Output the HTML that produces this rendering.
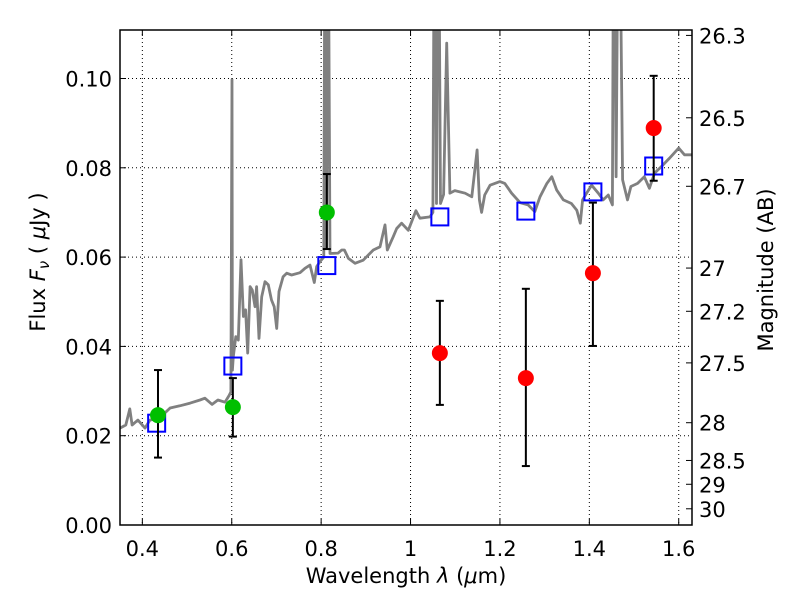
<!DOCTYPE html>
<html><head><meta charset="utf-8"><style>
html,body{margin:0;padding:0;background:#fff;}
svg text{font-family:"DejaVu Sans","Liberation Sans",sans-serif;fill:#000;}
</style></head><body>
<div style="position:relative;width:800px;height:600px;">
<svg id="chart" width="800" height="600" viewBox="0 0 800 600" xmlns="http://www.w3.org/2000/svg" style="position:absolute;left:0;top:0;">
<defs><clipPath id="clip"><rect x="120" y="30" width="572" height="495"/></clipPath></defs>
<rect width="800" height="600" fill="#fff"/>
<g id="grid"></g>
<g id="plot" clip-path="url(#clip)"></g>
<g id="axes"></g>
<text x="406" y="583" text-anchor="middle" font-size="21">Wavelength  <tspan font-style="italic">λ</tspan> (<tspan font-style="italic">μ</tspan>m)</text>
<text transform="translate(45,262) rotate(-90)" text-anchor="middle" font-size="21">Flux  <tspan font-style="italic">F</tspan><tspan font-style="italic" font-size="15" dy="4">ν</tspan><tspan dy="-4">  (  </tspan><tspan font-style="italic">μ</tspan>Jy )</text>
<text transform="translate(773,270) rotate(-90)" text-anchor="middle" font-size="21">Magnitude (AB)</text>
</svg>
</div>
<script>
const specLam=[0.35,0.363,0.372,0.377,0.39,0.406,0.417,0.439,0.462,0.484,0.507,0.529,0.54,0.556,0.569,0.585,0.594,0.598,0.6005,0.6015,0.6035,0.609,0.6147,0.6207,0.626,0.631,0.6357,0.641,0.646,0.652,0.6557,0.661,0.667,0.6744,0.6818,0.689,0.695,0.7005,0.7057,0.715,0.723,0.734,0.7527,0.7639,0.775,0.7847,0.79,0.7975,0.806,0.809,0.812,0.815,0.8198,0.838,0.846,0.852,0.861,0.8757,0.894,0.9167,0.9317,0.9429,0.948,0.9615,0.969,0.98,0.995,1.012,1.021,1.0435,1.05,1.054,1.058,1.062,1.067,1.074,1.081,1.088,1.099,1.122,1.137,1.149,1.154,1.159,1.166,1.178,1.2,1.211,1.226,1.245,1.263,1.278,1.2897,1.305,1.316,1.327,1.342,1.36,1.372,1.3797,1.385,1.394,1.405,1.42,1.431,1.4425,1.4517,1.455,1.46,1.466,1.4745,1.4855,1.493,1.508,1.523,1.5345,1.5457,1.5606,1.579,1.6,1.613,1.63];
const specFlux=[0.0217,0.0224,0.026,0.0224,0.0235,0.0217,0.0235,0.024,0.0262,0.0267,0.0273,0.028,0.0284,0.027,0.028,0.0275,0.029,0.0298,0.0997,0.0347,0.0377,0.0422,0.0414,0.0594,0.0467,0.0482,0.0385,0.0534,0.0526,0.0489,0.0534,0.0418,0.0511,0.0545,0.0538,0.0504,0.0489,0.044,0.0523,0.0556,0.0564,0.056,0.0565,0.0575,0.0582,0.0543,0.0579,0.059,0.06,0.16,0.062,0.16,0.0608,0.0609,0.0616,0.0616,0.0597,0.0586,0.0593,0.0616,0.0623,0.0672,0.0616,0.0646,0.0664,0.0676,0.066,0.0704,0.0687,0.069,0.07,0.16,0.072,0.16,0.072,0.074,0.1079,0.0743,0.0749,0.0743,0.0735,0.084,0.0728,0.07,0.0739,0.0761,0.0769,0.0765,0.0743,0.0722,0.0717,0.0702,0.0735,0.0765,0.078,0.075,0.0728,0.072,0.0705,0.0676,0.0728,0.0743,0.0761,0.0743,0.0728,0.0739,0.0717,0.16,0.078,0.16,0.0773,0.0728,0.0758,0.0765,0.078,0.0754,0.0788,0.0802,0.0821,0.0844,0.0829,0.0829];
const modelLam=[0.432,0.6025,0.8127,1.0656,1.258,1.408,1.544];
const modelFlux=[0.0228,0.0356,0.0581,0.069,0.0703,0.0746,0.0804];
const greenLam=[0.435,0.6025,0.8127];
const greenFlux=[0.0246,0.0264,0.070];
const greenLo=[0.0151,0.0198,0.0618];
const greenHi=[0.0347,0.0329,0.0786];
const redLam=[1.0656,1.258,1.408,1.544];
const redFlux=[0.0385,0.0329,0.0564,0.0889];
const redLo=[0.0269,0.0132,0.0401,0.0771];
const redHi=[0.0502,0.0529,0.0722,0.1006];
const xTicks=[0.4,0.6,0.8,1.0,1.2,1.4,1.6];
const xTickLabels=["0.4","0.6","0.8","1","1.2","1.4","1.6"];
const yTicks=[0,0.02,0.04,0.06,0.08,0.10];
const yTickLabels=["0.00","0.02","0.04","0.06","0.08","0.10"];
const magTicks=[26.3,26.5,26.7,27,27.2,27.5,28,28.5,29,30];
const magTickLabels=["26.3","26.5","26.7","27","27.2","27.5","28","28.5","29","30"];

const L=120,R=692,T=30,B=525,XMIN=0.35,XMAX=1.6297,YMIN=0,YMAX=0.11086;
const sx=v=>L+(v-XMIN)/(XMAX-XMIN)*(R-L);
const sy=v=>B-(v-YMIN)/(YMAX-YMIN)*(B-T);
const magToFlux=m=>Math.pow(10,(23.9-m)/2.5);
const NS="http://www.w3.org/2000/svg";
function mk(parent,tag,attrs){const e=document.createElementNS(NS,tag);for(const k in attrs)e.setAttribute(k,attrs[k]);parent.appendChild(e);return e;}
const grid=document.getElementById('grid'),plot=document.getElementById('plot'),axes=document.getElementById('axes');

xTicks.forEach((v,i)=>{
  const g=mk(grid,'line',{x1:sx(v),x2:sx(v),y1:T,y2:B,stroke:'#000','stroke-width':1,'stroke-dasharray':'1,3'});
  
  
  const t1=mk(axes,'line',{x1:sx(v),x2:sx(v),y1:B,y2:B-6,stroke:'#000','stroke-width':1});
  
  
  mk(axes,'line',{x1:sx(v),x2:sx(v),y1:T,y2:T+6,stroke:'#000','stroke-width':1});
  const tx=mk(axes,'text',{x:sx(v),y:B+31,'text-anchor':'middle','font-size':21});
  tx.textContent=xTickLabels[i];
  
  
});
yTicks.forEach((v,i)=>{
  const g=mk(grid,'line',{x1:L,x2:R,y1:sy(v),y2:sy(v),stroke:'#000','stroke-width':1,'stroke-dasharray':'1,3'});
  
  
  mk(axes,'line',{x1:L,x2:L+6,y1:sy(v),y2:sy(v),stroke:'#000','stroke-width':1});
  const tx=mk(axes,'text',{x:L-8,y:sy(v)+8,'text-anchor':'end','font-size':21});
  tx.textContent=yTickLabels[i];
  
  
});
magTicks.forEach((m,i)=>{
  const y=sy(magToFlux(m));
  mk(axes,'line',{x1:R,x2:R-6,y1:y,y2:y,stroke:'#000','stroke-width':1});
  const tx=mk(axes,'text',{x:R+7,y:y+8,'text-anchor':'start','font-size':21});
  tx.textContent=magTickLabels[i];
  
  
});

let d='';specLam.forEach((l,i)=>{d+=(i?'L':'M')+sx(l).toFixed(1)+','+sy(specFlux[i]).toFixed(1);});
const sp=mk(plot,'path',{d:d,fill:'none',stroke:'#808080','stroke-width':2.8,'stroke-linejoin':'round'});



modelLam.forEach((l,i)=>{
  const r=mk(plot,'rect',{x:sx(l)-8.5,y:sy(modelFlux[i])-8.5,width:17,height:17,fill:'none',stroke:'#0000ff','stroke-width':2});
  
  
});
function errPoints(lam,flux,lo,hi,color,name){
  lam.forEach((l,i)=>{
    const x=sx(l);
    const e=mk(plot,'line',{x1:x,x2:x,y1:sy(lo[i]),y2:sy(hi[i]),stroke:'#000','stroke-width':2});
    
    
    mk(plot,'line',{x1:x-4,x2:x+4,y1:sy(lo[i]),y2:sy(lo[i]),stroke:'#000','stroke-width':2});
    mk(plot,'line',{x1:x-4,x2:x+4,y1:sy(hi[i]),y2:sy(hi[i]),stroke:'#000','stroke-width':2});
    const c=mk(plot,'circle',{cx:x,cy:sy(flux[i]),r:8,fill:color});
    
    
  });
}
errPoints(greenLam,greenFlux,greenLo,greenHi,'#00bf00','observed-point-green');
errPoints(redLam,redFlux,redLo,redHi,'#ff0000','observed-point-red');

const fr=mk(axes,'rect',{x:L,y:T,width:R-L,height:B-T,fill:'none',stroke:'#000','stroke-width':1.5});


</script>
</body></html>
